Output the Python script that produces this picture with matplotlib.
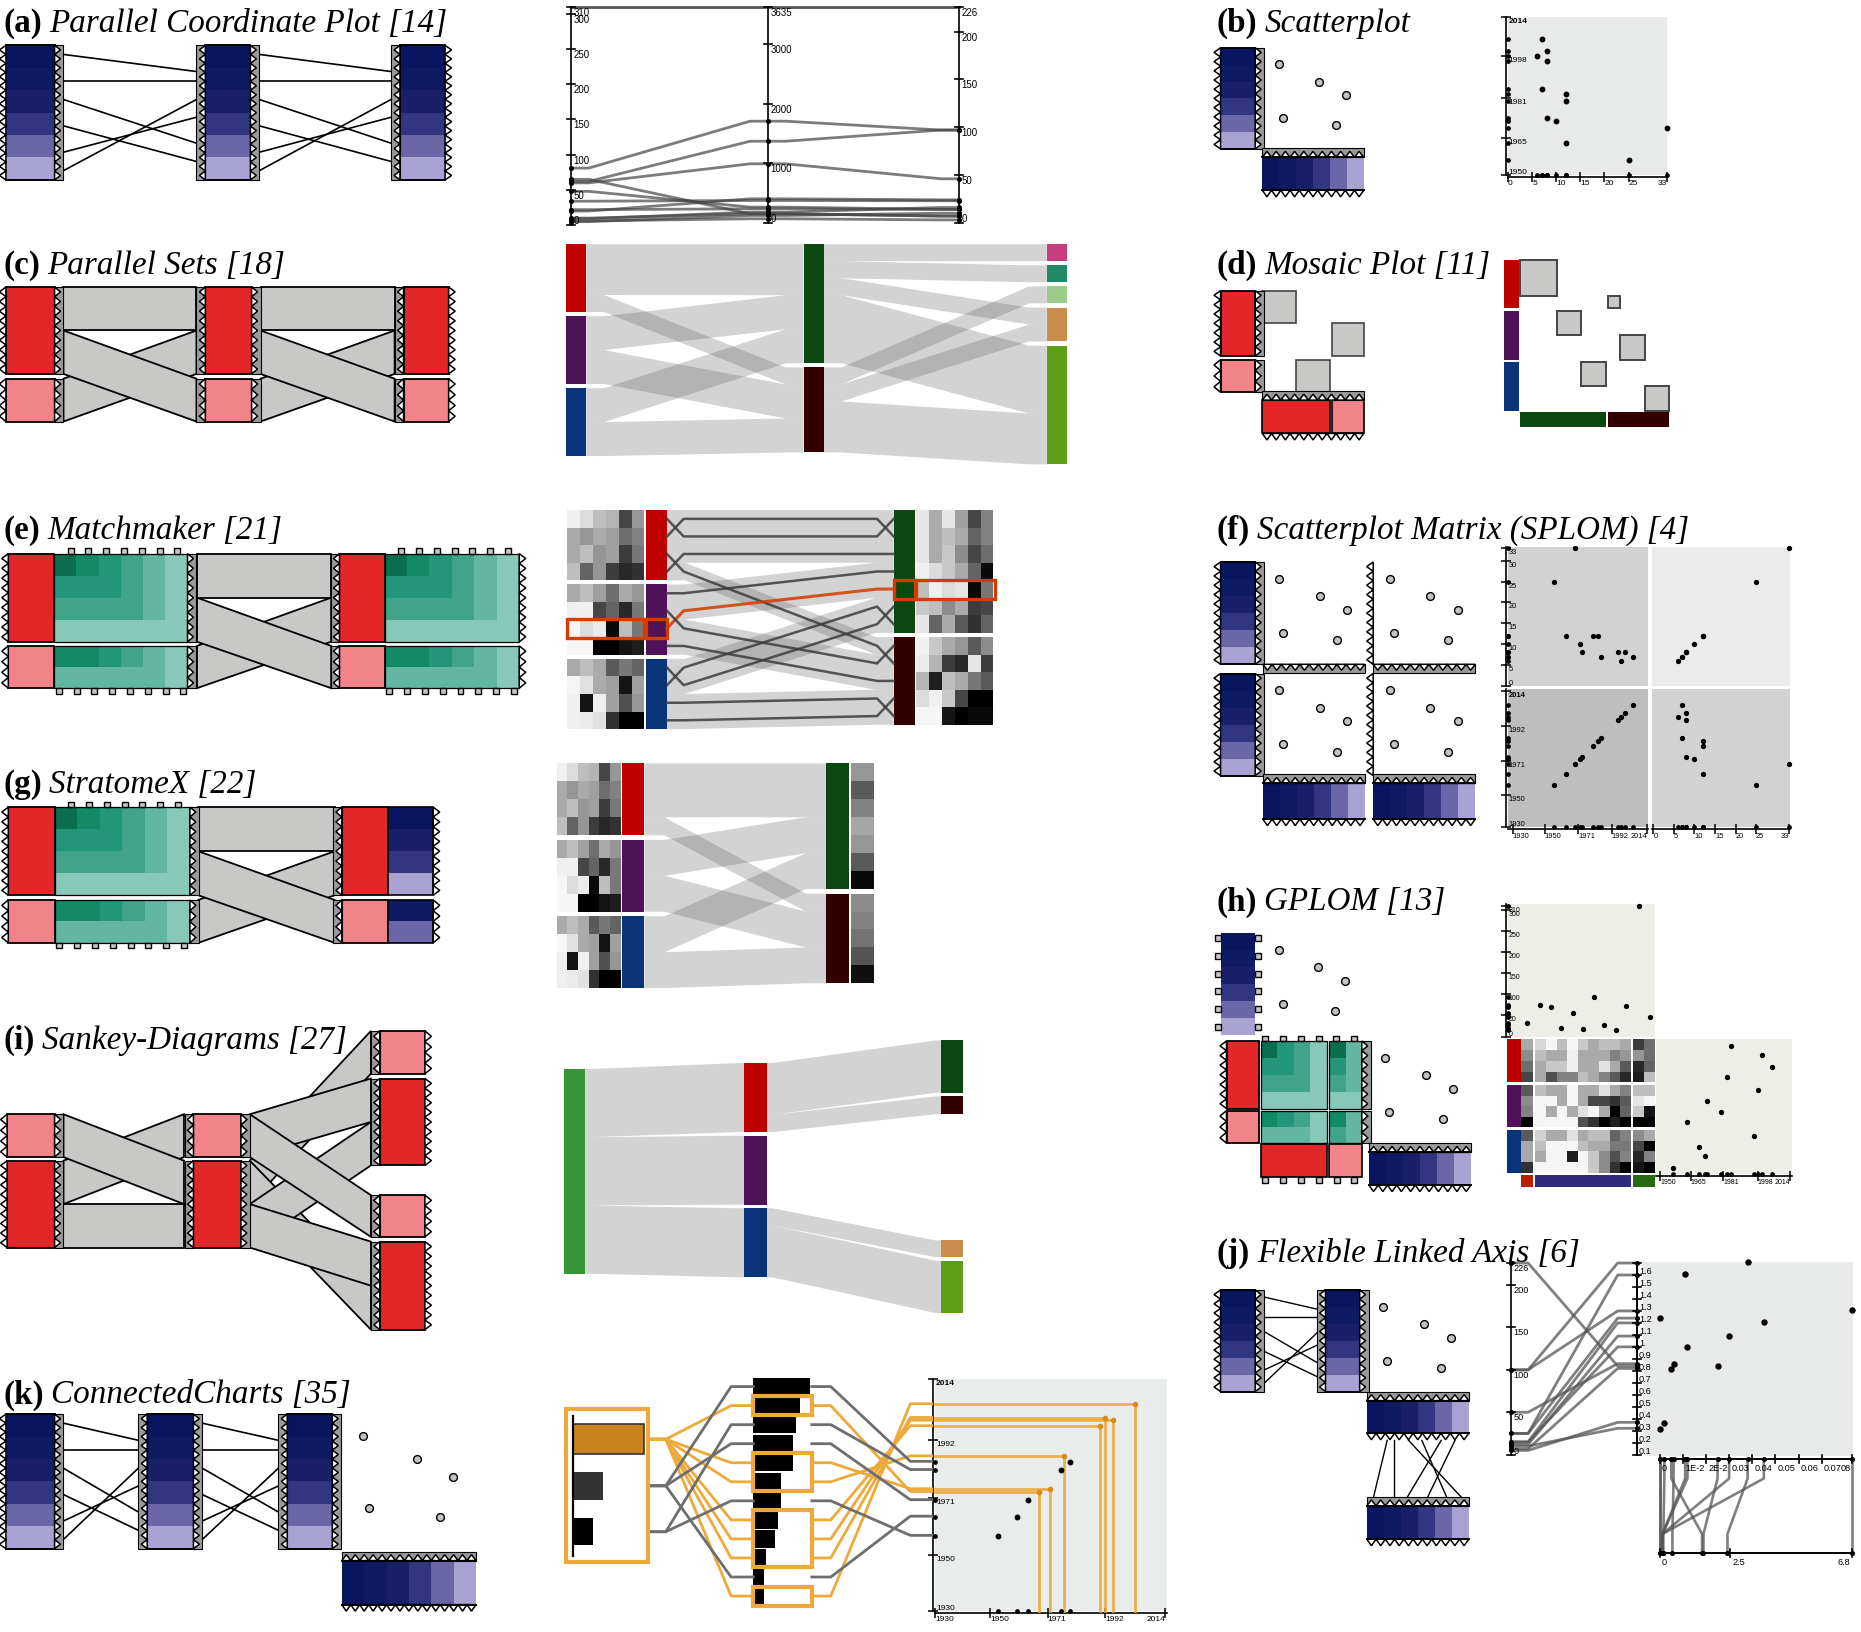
import matplotlib
matplotlib.use("Agg")
import matplotlib.pyplot as plt
import numpy as np
from matplotlib.colors import ListedColormap
from matplotlib.patches import Polygon, Rectangle

W, H = 1568.0, 1372.0

TITLES_LEFT = [("(a)", "Parallel Coordinate Plot [14]", 20), ("(c)", "Parallel Sets [18]", 223),
               ("(e)", "Matchmaker [21]", 446), ("(g)", "StratomeX [22]", 659),
               ("(i)", "Sankey-Diagrams [27]", 874), ("(k)", "ConnectedCharts [35]", 1172)]
TITLES_RIGHT = [("(b)", "Scatterplot", 20), ("(d)", "Mosaic Plot [11]", 223),
                ("(f)", "Scatterplot Matrix (SPLOM) [4]", 446), ("(h)", "GPLOM [13]", 758),
                ("(j)", "Flexible Linked Axis [6]", 1053)]

BLUES = ["#0a1562", "#0e1a64", "#192069", "#323582", "#6a66a8", "#a9a3d4"]
GREENS = ["#0a6e4e", "#128a66", "#239579", "#41a38a", "#62b6a2", "#88c8b8"]
SCHEM_RED, SCHEM_PINK, SCHEM_GRAY = "#e32728", "#f28388", "#c8c8c6"
SET_A = ["#c00000", "#4f1258", "#0a347a"]
SET_B = ["#0b4710", "#330000"]
SET_C = ["#c73e7f", "#1f8a65", "#9ccc8c", "#c88c4c", "#5f9f16"]
ORANGE, HILITE = "#eda93a", "#d23c00"

# links of the schematic parallel coordinates, as fraction of the column height
LINK_LEFT = [0.067, 0.263, 0.402, 0.598, 0.794, 0.931]
LINK_RIGHT = [0.194, 0.263, 0.727, 0.863, 0.534, 0.402]
ROW_LINK_TOP = [0.20, 0.265, 0.41, 0.54, 0.73, 0.865]
ROW_LINK_BOTTOM = [0.065, 0.265, 0.93, 0.785, 0.395, 0.595]
SCAT_X = [0.161, 0.560, 0.826, 0.199, 0.730]
SCAT_Y = [0.164, 0.334, 0.469, 0.695, 0.764]

SCHEM_FLOWS = [[1, 1], [1, 0]]
SANKEY_FLOWS = [[0, 1], [1, 1]]
FLOW_AB = [[3, 1], [2, 2], [2, 2]]
FLOW_BC = [[1, 1, 0, 1, 4], [0, 0, 1, 1, 3]]
SIZES_C = [1, 1, 1, 2, 7]
FLOW_ROOT = [[4, 4, 4]]
FLOW_SANKEY_TOP = [[3, 1]]
FLOW_SANKEY_BOT = [[1, 3]]
SANKEY_SLOTS = [(1, 0), (1, 5), (2, 2), (2, 4), (0, 1), (0, 3)]

MATRIX_TOP = [[0, 1, 2, 3, 4, 5], [2, 2, 2, 3, 4, 5], [3, 3, 3, 3, 4, 5], [5, 5, 5, 5, 5, 5]]
MATRIX_BOT = [[1, 1, 2, 3, 4, 5], [4, 4, 4, 4, 4, 5]]
GPLOM_TL = [[0, 2, 3, 5], [2, 2, 3, 5], [3, 3, 3, 5], [5, 5, 5, 5]]
GPLOM_BL = [[1, 2, 3, 5], [4, 4, 4, 5]]
GPLOM_TR = [[0, 4], [2, 4], [3, 4], [5, 5]]
GPLOM_BR = [[1, 4], [3, 4]]

# parallel coordinates (a)
PCP_A = [81, 62, 60, 65, 48, 34, 20, 22, 9, 5, 6, 10]
PCP_B = [1709, 1372, 992, 151, 263, 375, 403, 235, 179, 123, 67, 151]
PCP_C = [97, 97, 46, 7, 14, 23, 24, 14, 16, 10, 3, 7]

YEAR = [2005, 1998, 2000, 1996, 1985, 1983, 1980, 1973, 1972, 1969, 1963, 1956]
VALUE = [7, 6, 8, 8, 7, 12, 12, 8, 10, 33, 12, 25]

HEAT_A = [[240, 220, 190, 180, 70, 150], [170, 150, 170, 160, 110, 130],
          [170, 190, 150, 160, 60, 120], [190, 100, 150, 60, 40, 50],
          [170, 190, 160, 110, 170, 150], [240, 240, 70, 100, 40, 120],
          [245, 220, 235, 10, 190, 120], [245, 245, 0, 0, 20, 30],
          [170, 190, 170, 90, 120, 100], [245, 225, 170, 160, 20, 160],
          [240, 20, 240, 160, 80, 150], [240, 235, 225, 50, 0, 0]]
HEAT_B = [[230, 170, 230, 160, 70, 130], [230, 170, 190, 170, 100, 130],
          [230, 170, 200, 140, 70, 110], [240, 220, 200, 170, 100, 10],
          [190, 240, 220, 230, 10, 120], [200, 190, 140, 170, 60, 70],
          [230, 100, 170, 90, 50, 100], [240, 200, 170, 150, 90, 140],
          [235, 180, 60, 40, 230, 60], [180, 30, 190, 170, 120, 90],
          [220, 240, 200, 70, 0, 0], [245, 245, 20, 0, 10, 10]]
ROW_ORDER = [0, 1, 2, 7, 3, 4, 8, 9, 5, 6, 10, 11]
ENTRY_LEFT = [1, 0, 3, 2, 4, 6, 5, 7, 9, 8, 10, 11]
ENTRY_RIGHT = [1, 0, 2, 3, 4, 6, 5, 8, 7, 9, 11, 10]
HILITE_SLOT = 5
AVG_GRAY = [150, 90, 130, 165, 150, 90, 10, 140, 130, 115, 85, 15]

GPLOM_FIRST = [170, 140, 110, 70, 90, 140, 130, 0, 90, 170, 170, 50]
GPLOM_MID = [[215, 245, 190, 245, 200, 170, 190, 190, 170], [190, 170, 170, 240, 170, 170, 170, 130, 150],
             [170, 200, 200, 240, 170, 170, 225, 170, 90], [170, 80, 130, 130, 190, 170, 130, 90, 40],
             [190, 170, 170, 245, 170, 170, 225, 170, 130], [245, 245, 170, 245, 170, 70, 70, 50, 90],
             [245, 170, 245, 170, 225, 245, 170, 0, 100], [245, 245, 245, 245, 80, 50, 0, 30, 0],
             [210, 170, 170, 225, 170, 190, 190, 100, 130], [190, 245, 245, 245, 190, 170, 170, 120, 120],
             [170, 245, 245, 30, 245, 200, 140, 80, 130], [245, 245, 245, 245, 245, 200, 140, 50, 0]]
GPLOM_LAST = [[60, 110], [150, 110], [40, 100], [30, 190], [190, 190], [230, 245],
              [200, 20], [0, 0], [140, 170], [70, 0], [40, 130], [20, 0]]
GPLOM_X = [13, 22, 29, 36, 44, 51, 58, 65, 73, 80, 89, 96]
GPLOM_A = [32, 75, 69, 20, 57, 19, 93, 28, 16, 73, 310, 46]
GPLOM_YEAR = [1985, 2000, 2005, 1983, 1998, 1973, 1980, 1963, 1996, 1969, 1972, 1956]
GPLOM_Y = [95, 88, 79, 72, 62, 54, 46, 38, 28, 20, 13, 4]

J_A = [10, 5, 7, 50, 25, 25, 15, 226, 12, 100, 15, 100]
J_X = [0, 0.002, 0.005, 0.006, 0, 0.011, 0.012, 0.025, 0.03, 0.038, 0.045, 0.083]
J_Y = [0.32, 0.37, 0.82, 0.86, 1.24, 1.6, 1.0, 0.84, 1.09, 1.7, 1.2, 1.3]
J_Z = [0, 0.13, 1.5, 0.45, 0, 0.1, 0.1, 1.55, 0.1, 2.4, 0.1, 6.8]

K_BARS = [74, 61, 56, 52, 52, 36, 36, 32, 28, 16, 14, 14]
K_NODE = [60, 25, 17]
K_ORANGE_BARS = [1, 4, 5, 7, 8, 9, 11]
K_ORANGE_YEAR_Y = [1973, 1974, 1986, 1997, 1999, 2000, 2005]
K_ORANGE_YEAR_X = [1968, 1972, 1977, 1990, 1995, 1992, 2003]
K_GRAY_BARS = [0, 2, 3, 6, 10]
K_GRAY_SRC = [1, 2, 1, 2, 1]
K_GRAY_YEAR_Y = [1984, 1981, 1970, 1957, 1964]
K_GRAY_YEAR_X = [1979, 1976, 1964, 1953, 1960]
K_BOXES = [(1, 1), (4, 5), (7, 9), (11, 11)]

plt.rcParams["font.family"] = ["Liberation Sans", "DejaVu Sans"]
fig = plt.figure(figsize=(18.61, 16.33), dpi=100)


def make_canvas(shift, z):
    ax = fig.add_axes([0, 0, 1, 1], zorder=z)
    ax.set_xlim(-shift, W - shift)
    ax.set_ylim(H, 0)
    ax.axis("off")
    ax.patch.set_visible(False)
    ax.set_autoscale_on(False)
    return ax


canvas = make_canvas(0, 5)
chart_shift = 0


def title(x, y, bold, italic):
    renderer = fig.canvas.get_renderer()
    t = canvas.text(x, y, bold, family="Liberation Serif", fontweight="bold", fontsize=23.9, va="center")
    right = canvas.transData.inverted().transform(t.get_window_extent(renderer).corners()[-1])[0]
    canvas.text(right + 6, y, italic, family="Liberation Serif", style="italic", fontsize=23.9, va="center")


def box(x0, y0, x1, y1, fc, ec="none", lw=0.0, z=2):
    canvas.add_patch(Rectangle((x0, y0), x1 - x0, y1 - y0, fc=fc, ec=ec, lw=lw, zorder=z))


def side(orient, pos, c0, c1, kind, sign, step=7.5):
    """Edge decoration of a schematic column or row."""
    if kind is None:
        return
    xy = (lambda p, c: (p, c)) if orient == "v" else (lambda p, c: (c, p))
    if kind == "square":
        for c in np.arange(c0 + 4, c1, 15):
            a, b = xy(pos, c - 2.5), xy(pos + sign * 4.5, c + 2.5)
            box(a[0], a[1], b[0], b[1], "#c8c8c8", "black", 1.0, 3)
        return
    n = max(int((c1 - c0) / step), 2)
    cs = np.linspace(c0, c1, 2 * n + 1)
    tip = 5.5 if kind == "zig" else 5
    if kind == "strip":
        a, b = xy(pos, c0), xy(pos + sign * 7.5, c1)
        box(a[0], a[1], b[0], b[1], "#9a9a9a", "black", 0.8, 3)
    pts = [xy(pos + (sign * tip if i % 2 else 0), c) for i, c in enumerate(cs)]
    canvas.add_patch(Polygon(pts, closed=True, fc="white", ec="black", lw=1.1, zorder=3))


def column(x0, x1, segs, colors, left=None, right=None, outline=False):
    for (y0, y1), color in zip(segs, colors):
        box(x0, y0, x1, y1, color, "black" if outline else "none", 1.3 if outline else 0)
        if outline:
            side("v", x0, y0, y1, left, -1)
            side("v", x1, y0, y1, right, 1)
    if not outline:
        canvas.plot([x0, x1], [segs[0][0]] * 2, color="black", lw=1.4, zorder=3)
        canvas.plot([x0, x1], [segs[-1][1]] * 2, color="black", lw=1.4, zorder=3)


def blue_col(x0, x1, y0, y1, left, right):
    edges = np.linspace(y0, y1, 7)
    column(x0, x1, list(zip(edges[:-1], edges[1:])), BLUES)
    side("v", x0, y0, y1, left, -1)
    side("v", x1, y0, y1, right, 1)


def blue_row(x0, x1, y0, y1, top="strip", bottom="zig"):
    edges = np.linspace(x0, x1, 7)
    for a, b, color in zip(edges[:-1], edges[1:], BLUES):
        box(a, y0, b, y1, color)
    side("h", y0, x0, x1, top, -1)
    side("h", y1, x0, x1, bottom, 1)
    canvas.plot([x0, x1], [y0, y0], color="black", lw=1.4, zorder=3)
    canvas.plot([x0, x1], [y1, y1], color="black", lw=1.4, zorder=3)


def red_col(x0, x1, segs, left, right, colors=(SCHEM_RED, SCHEM_PINK)):
    column(x0, x1, segs, colors, left, right, outline=True)


def link_lines(x0, x1, y0, y1, left=LINK_LEFT, right=LINK_RIGHT, lw=1.2):
    for a, b in zip(left, right):
        canvas.plot([x0, x1], [y0 + a * (y1 - y0), y0 + b * (y1 - y0)], color="black", lw=lw, zorder=2)


def flow_bands(flows, left_segs, right_segs):
    flows = np.asarray(flows, dtype=float)
    bands = []
    lunit = [(b - a) / flows[i].sum() for i, (a, b) in enumerate(left_segs)]
    runit = [(b - a) / flows[:, j].sum() for j, (a, b) in enumerate(right_segs)]
    rpos = [s[0] for s in right_segs]
    for i, (ltop, _) in enumerate(left_segs):
        lpos = ltop
        for j in range(flows.shape[1]):
            if flows[i, j] > 0:
                lh, rh = flows[i, j] * lunit[i], flows[i, j] * runit[j]
                bands.append((lpos, lpos + lh, rpos[j], rpos[j] + rh))
                lpos += lh
                rpos[j] += rh
    return bands


def ribbons(bands, x0, x1, stub=15.0, schematic=False):
    for la, lb, ra, rb in bands:
        pts = [(x0, la), (x0 + stub, la), (x1 - stub, ra), (x1, ra),
               (x1, rb), (x1 - stub, rb), (x0 + stub, lb), (x0, lb)]
        if schematic:
            canvas.add_patch(Polygon(pts, closed=True, fc=SCHEM_GRAY, ec="black", lw=1.3, zorder=1.5))
        else:
            canvas.add_patch(Polygon(pts, closed=True, fc="#666666", alpha=0.288, ec="none", zorder=1.5))


def split(y0, y1, sizes, gap):
    unit = (y1 - y0 - gap * (len(sizes) - 1)) / sum(sizes)
    segs, pos = [], y0
    for size in sizes:
        segs.append((pos, pos + size * unit))
        pos += size * unit + gap
    return segs


def matrix(x0, x1, y0, y1, levels):
    levels = np.asarray(levels)
    rows, cols = levels.shape
    cmap = ListedColormap(GREENS)
    canvas.pcolormesh(np.linspace(x0, x1, cols + 1), np.linspace(y0, y1, rows + 1), levels,
                      cmap=cmap, vmin=-0.5, vmax=5.5, zorder=2)
    box(x0, y0, x1, y1, "none", "black", 0.9, 3)


def heat(x0, x1, y0, y1, rows):
    rows = np.asarray(rows)
    canvas.pcolormesh(np.linspace(x0, x1, rows.shape[1] + 1), np.linspace(y0, y1, rows.shape[0] + 1),
                      rows, cmap="gray", vmin=0, vmax=255, zorder=2)


def circles(x0, x1, y0, y1):
    canvas.plot(x0 + np.array(SCAT_X) * (x1 - x0), y0 + np.array(SCAT_Y) * (y1 - y0), "o", ms=5.6,
                mfc="#c4c4c4", mec="black", mew=1.0, zorder=3)


def lin(v, v0, v1, p0, p1):
    return p0 + (np.asarray(v, dtype=float) - v0) / (v1 - v0) * (p1 - p0)


def vaxis(x, v0, v1, p0, p1, ticks, labels, fs=6.2, va="top", rug=None):
    canvas.plot([x, x], [p0, p1], color="black", lw=1.2, zorder=4)
    for k, (v, label) in enumerate(zip(ticks, labels)):
        y = lin(v, v0, v1, p0, p1)
        canvas.plot([x - 3.5, x + 3.5], [y, y], color="black", lw=1.2, zorder=4)
        canvas.text(x + 2, y, label, fontsize=fs, va="bottom" if k == 0 else va, ha="left", zorder=6)
    if rug is not None:
        canvas.plot([x] * len(rug), lin(rug, v0, v1, p0, p1), "o", ms=2.6, color="black", zorder=4)


def haxis(y, v0, v1, p0, p1, ticks, labels, fs=6.2, rug=None):
    canvas.plot([p0, p1], [y, y], color="black", lw=1.4, zorder=4)
    for k, (v, label) in enumerate(zip(ticks, labels)):
        x = lin(v, v0, v1, p0, p1)
        last = k == len(ticks) - 1
        canvas.plot([x, x], [y - 3.5, y + 3.5], color="black", lw=1.2, zorder=4)
        canvas.text(x - 1 if last else x + 2, y + 3.5, label, fontsize=fs, va="top",
                    ha="right" if last else "left", zorder=6)
    if rug is not None:
        canvas.plot(lin(rug, v0, v1, p0, p1), [y] * len(rug), "o", ms=2.6, color="black", zorder=4)


def chart(rect, xlim, ylim, bg, xticks=None, xlabels=None, yticks=None, ylabels=None, fs=6.0):
    x0, y0, x1, y1 = rect
    x0, x1 = x0 + chart_shift, x1 + chart_shift
    ax = fig.add_axes([x0 / W, 1 - y1 / H, (x1 - x0) / W, (y1 - y0) / H], zorder=1)
    ax.set_xlim(*xlim)
    ax.set_ylim(*ylim)
    ax.set_facecolor(bg)
    for name in ("top", "right"):
        ax.spines[name].set_visible(False)
    for name in ("left", "bottom"):
        ax.spines[name].set_position(("outward", 1.5))
        ax.spines[name].set_linewidth(1.2)
        ax.spines[name].set_visible((name == "left" and yticks is not None)
                                    or (name == "bottom" and xticks is not None))
    ax.set_xticks(xticks if xticks is not None else [])
    ax.set_yticks(yticks if yticks is not None else [])
    if xticks is not None:
        ax.set_xticklabels(xlabels, fontsize=fs, ha="left")
        ax.get_xticklabels()[-1].set_ha("right")
    if yticks is not None:
        ax.set_yticklabels(ylabels, fontsize=fs, va="top", ha="left")
        ax.get_yticklabels()[0].set_va("bottom")
    ax.tick_params(axis="x", direction="inout", length=7, width=1.1, pad=-2)
    ax.tick_params(axis="y", direction="inout", length=7, width=1.1, pad=-5.5)
    return ax


def dots(ax, x, y, rug_x=False, rug_y=False, ms=3.2):
    ax.plot(x, y, "o", color="black", ms=ms, clip_on=False, zorder=4, ls="none")
    if rug_x:
        ax.plot(x, [ax.get_ylim()[0]] * len(x), "o", color="black", ms=2.4, clip_on=False, zorder=4, ls="none")
    if rug_y:
        ax.plot([ax.get_xlim()[0]] * len(y), y, "o", color="black", ms=2.4, clip_on=False, zorder=4, ls="none")


for bold, italic, y in TITLES_LEFT:
    title(3, y, bold, italic)
for bold, italic, y in TITLES_RIGHT:
    title(1025, y, bold, italic)

# --- (a) parallel coordinates
for x0, x1, left, right in [(5, 46, "zig", "strip"), (173, 211, "strip", "strip"), (337, 375, "strip", "zig")]:
    blue_col(x0, x1, 39, 152, left, right)
link_lines(53.5, 165.5, 39, 152)
link_lines(218.5, 329.5, 39, 152)

AX_A, AX_B, AX_C = 481, 647, 808
PCP_TOP, PCP_BOTTOM = 6.5, 190
vaxis(AX_A, 0, 310, PCP_BOTTOM, PCP_TOP, [0, 50, 100, 150, 200, 250, 300, 310],
      ["0", "50", "100", "150", "200", "250", "300", "310"], fs=7.0, rug=PCP_A)
vaxis(AX_B, 0, 3635, PCP_BOTTOM - 2, PCP_TOP, [0, 1000, 2000, 3000, 3635], ["0", "1000", "2000", "3000", "3635"],
      fs=7.0, rug=PCP_B)
vaxis(AX_C, 0, 226, PCP_BOTTOM - 2, PCP_TOP, [0, 50, 100, 150, 200, 226], ["0", "50", "100", "150", "200", "226"],
      fs=7.0, rug=PCP_C)
canvas.plot([AX_A, AX_C], [PCP_TOP, PCP_TOP], color="#555555", lw=2, zorder=3)
for a, b, c in zip(PCP_A, PCP_B, PCP_C):
    ya = lin(a, 0, 310, PCP_BOTTOM, PCP_TOP)
    yb = lin(b, 0, 3635, PCP_BOTTOM - 2, PCP_TOP)
    yc = lin(c, 0, 226, PCP_BOTTOM - 2, PCP_TOP)
    canvas.plot([AX_A, AX_A + 15, AX_B - 15, AX_B, AX_B + 15, AX_C - 15, AX_C], [ya, ya, yb, yb, yb, yc, yc],
                color="#444444", alpha=0.7, lw=2, zorder=3)

# --- (c) parallel sets
RP_C = [(242, 315), (319, 355)]
red_col(5, 46, RP_C, "zig", "strip")
red_col(173, 212, RP_C, "strip", "strip")
red_col(340, 378, RP_C, "strip", "zig")
ribbons(flow_bands(SCHEM_FLOWS, RP_C, RP_C)[::-1], 53.5, 165.5, 0, True)
ribbons(flow_bands(SCHEM_FLOWS, RP_C, RP_C)[::-1], 219.5, 332.5, 0, True)

A_C = split(206, 384, [4, 4, 4], 3.5)
B_C = split(206, 381, [7, 5], 3.5)
C_C = split(206, 391, SIZES_C, 3.5)
for segs, colors, x0, x1 in [(A_C, SET_A, 477, 494), (B_C, SET_B, 677, 694), (C_C, SET_C, 882, 899)]:
    for (y0, y1), color in zip(segs, colors):
        box(x0, y0, x1, y1, color)
ribbons(flow_bands(FLOW_AB, A_C, B_C), 494, 677)
ribbons(flow_bands(FLOW_BC, B_C, C_C), 694, 882)

# --- (e) matchmaker
RP_E = [(466, 540), (543.5, 579)]
RP_G = [(679, 753), (757, 793)]


def green_blocks(x0, x1, segs):
    matrix(x0, x1, segs[0][0], segs[0][1], MATRIX_TOP)
    matrix(x0, x1, segs[1][0], segs[1][1], MATRIX_BOT)
    side("h", segs[0][0], x0 + 10, x1 - 5, "square", -1)
    side("h", segs[1][1], x0, x1, "square", 1)


red_col(7, 45.5, RP_E, "zig", None)
green_blocks(45.5, 158, RP_E)
for seg in RP_E:
    side("v", 158, seg[0], seg[1], "strip", 1)
red_col(286, 324, RP_E, "strip", None)
green_blocks(324, 437.5, RP_E)
for seg in RP_E:
    side("v", 437.5, seg[0], seg[1], "zig", 1)
ribbons(flow_bands(SCHEM_FLOWS, RP_E, RP_E)[::-1], 166, 279, 0, True)

A_E = split(429.4, 613.4, [4, 4, 4], 3.5)
B_E = split(429.4, 609.8, [7, 5], 3.5)
for (y0, y1), color in zip(A_E, SET_A):
    box(544, y0, 562, y1, color)
for (y0, y1), color in zip(B_E, SET_B):
    box(753, y0, 771, y1, color)
heat_rows = np.array(HEAT_A)
for k, (y0, y1) in enumerate(A_E):
    heat(478, 543, y0, y1, heat_rows[4 * k:4 * k + 4])
heat_rows_b = np.array(HEAT_B)
heat(772, 837, B_E[0][0], B_E[0][1], heat_rows_b[:7])
heat(772, 837, B_E[1][0], B_E[1][1], heat_rows_b[7:])
ribbons(flow_bands(FLOW_AB, A_E, B_E), 562, 753)
left_rows = np.concatenate([s[0] + (np.arange(4) + 0.5) * (s[1] - s[0]) / 4 for s in A_E])
right_rows = np.concatenate([B_E[0][0] + (np.arange(7) + 0.5) * (B_E[0][1] - B_E[0][0]) / 7,
                             B_E[1][0] + (np.arange(5) + 0.5) * (B_E[1][1] - B_E[1][0]) / 5])
for s, t in enumerate(ROW_ORDER):
    color, lw = (HILITE, 2.2) if s == HILITE_SLOT else ("#3c3c3c", 1.8)
    canvas.plot([562, 576, 739, 753],
                [left_rows[ENTRY_LEFT[s]], left_rows[s], right_rows[t], right_rows[ENTRY_RIGHT[t]]],
                color=color, lw=lw, alpha=0.85, zorder=3)
hl = left_rows[ENTRY_LEFT[HILITE_SLOT]]
hr = right_rows[ENTRY_RIGHT[ROW_ORDER[HILITE_SLOT]]]
for x0, x1, yc in [(478, 543, hl), (544, 562, hl), (753, 771, hr), (772, 838, hr)]:
    box(x0, yc - 8, x1, yc + 8, "none", HILITE, 2.4, 4)

# --- (g) stratomex
red_col(7, 46, RP_G, "zig", None)
green_blocks(46, 160, RP_G)
for seg in RP_G:
    side("v", 160, seg[0], seg[1], "strip", 1)
red_col(288, 327, RP_G, "strip", None)
edges_g = np.linspace(RP_G[0][0], RP_G[0][1], 5)
for a, b, color in zip(edges_g[:-1], edges_g[1:], [BLUES[0], BLUES[2], BLUES[3], BLUES[5]]):
    box(327, a, 365, b, color)
mid_g = sum(RP_G[1]) / 2
box(327, RP_G[1][0], 365, mid_g, BLUES[1])
box(327, mid_g, 365, RP_G[1][1], BLUES[4])
for seg in RP_G:
    box(327, seg[0], 365, seg[1], "none", "black", 1.2, 3)
    side("v", 365, seg[0], seg[1], "zig", 1)
ribbons(flow_bands(SCHEM_FLOWS, RP_G, RP_G)[::-1], 167, 282, 0, True)

A_G = split(642.3, 831, [4, 4, 4], 3.8)
B_G = split(642.3, 827, [7, 5], 3.8)
for k, ((y0, y1), color) in enumerate(zip(A_G, SET_A)):
    box(524, y0, 543, y1, color)
    heat(469, 523, y0, y1, heat_rows[4 * k:4 * k + 4])
for (y0, y1), color in zip(B_G, SET_B):
    box(696, y0, 715, y1, color)
heat(717, 736, B_G[0][0], B_G[0][1], np.array(AVG_GRAY[:7]).reshape(-1, 1))
heat(717, 736, B_G[1][0], B_G[1][1], np.array(AVG_GRAY[7:]).reshape(-1, 1))
ribbons(flow_bands(FLOW_AB, A_G, B_G), 543, 696, 17)

# --- (i) sankey
I_1 = [(937, 973), (976, 1049)]
I_T = [(867, 903), (907, 980)]
I_B = [(1005, 1040), (1044, 1118)]
PINK_FIRST = (SCHEM_PINK, SCHEM_RED)
red_col(6, 46, I_1, "zig", "strip", PINK_FIRST)
red_col(163, 203, I_1, "strip", "strip", PINK_FIRST)
red_col(320, 358, I_T, "strip", "zig", PINK_FIRST)
red_col(320, 358, I_B, "strip", "zig", PINK_FIRST)
ribbons(flow_bands(SANKEY_FLOWS, I_1, I_1)[::-1], 53.5, 155, 0, True)
src_slots = [I_1[0], (I_1[1][0], sum(I_1[1]) / 2), (sum(I_1[1]) / 2, I_1[1][1])]
dst_slots = [I_T[0], (I_T[1][0], sum(I_T[1]) / 2), (sum(I_T[1]) / 2, I_T[1][1]),
             I_B[0], (I_B[1][0], sum(I_B[1]) / 2), (sum(I_B[1]) / 2, I_B[1][1])]
ribbons([(src_slots[a][0], src_slots[a][1], dst_slots[b][0], dst_slots[b][1]) for a, b in SANKEY_SLOTS],
        210.5, 312.5, 0, True)

ROOT = [(899, 1071)]
MID_I = [(894, 952), (955, 1013), (1016, 1074)]
TOP_I = [(875, 919), (922, 937)]
BOT_I = [(1043, 1057), (1060, 1104)]
box(475, 899, 493, 1071, "#37953a")
for (y0, y1), color in zip(MID_I, SET_A):
    box(627, y0, 646, y1, color)
for (y0, y1), color in zip(TOP_I, SET_B):
    box(793, y0, 811, y1, color)
for (y0, y1), color in zip(BOT_I, SET_C[3:]):
    box(793, y0, 811, y1, color)
ribbons(flow_bands(FLOW_ROOT, ROOT, MID_I), 493, 627, 5)
ribbons(flow_bands(FLOW_SANKEY_TOP, [MID_I[0]], TOP_I), 646, 793, 5)
ribbons(flow_bands(FLOW_SANKEY_BOT, [MID_I[2]], BOT_I), 646, 793, 5)

# --- (k) connected charts
for x0, x1, left, right in [(5, 46, "zig", "strip"), (124, 163, "strip", "strip"), (242, 280, "strip", "strip")]:
    blue_col(x0, x1, 1189, 1302, left, right)
link_lines(53.5, 116.5, 1189, 1302)
link_lines(170.5, 234.5, 1189, 1302)
circles(288, 401, 1189, 1302)
blue_row(288, 401, 1312, 1349)

box(477, 1184.5, 546, 1313.5, "none", ORANGE, 3, 3)
canvas.plot([482.5, 482.5], [1190.5, 1307.8], color="black", lw=1.6, zorder=3)
NODE_Y = [(1197.3, 1222.8), (1237.4, 1260.9), (1276.2, 1299.3)]
for width, (y0, y1), color in zip(K_NODE, NODE_Y, ["#c8821f", "#333333", "black"]):
    box(483, y0, 483 + width, y1, color, "#333333" if color == "#c8821f" else "none", 1.2)
BAR_TOP, BAR_STEP, BAR_H = 1158.5, 16.0, 14.6
bar_y = [BAR_TOP + BAR_STEP * i for i in range(len(K_BARS))]
for y, width in zip(bar_y, K_BARS):
    box(634.7, y, 634.7 + width * 0.645, y + BAR_H, "black")
for first, last in K_BOXES:
    box(634.5, bar_y[first] - 0.7, 684, bar_y[last] + BAR_H + 0.7, "none", ORANGE, 3, 4)
year_pos = lambda yr: lin(yr, 1930, 2014, 1353, 1159.5)
node_mid = [sum(n) / 2 for n in NODE_Y]
for bar, yr, color, src in [(b, y, ORANGE, 0) for b, y in zip(K_ORANGE_BARS, K_ORANGE_YEAR_Y)] + \
        [(b, y, "#6e6e6e", s) for b, y, s in zip(K_GRAY_BARS, K_GRAY_YEAR_Y, K_GRAY_SRC)]:
    y_bar = bar_y[bar] + BAR_H / 2
    canvas.plot([546, 561, 616, 634.7], [node_mid[src], node_mid[src], y_bar, y_bar], color=color, lw=2, zorder=2.5)
    canvas.plot([684, 700, 767, 785], [y_bar, y_bar, year_pos(yr), year_pos(yr)], color=color, lw=2, zorder=2.5)

ax_k = chart((788, 1159.5, 983.6, 1354), (1930, 2014.7), (1930, 2014), "#e8ecea",
             [1930, 1950, 1971, 1992, 2014], ["1930", "1950", "1971", "1992", "2014"],
             [1930, 1950, 1971, 1992, 2014], ["1930", "1950", "1971", "1992", "2014"])
ax_k.get_yticklabels()[-1].set_fontweight("bold")
for xv, yv in zip(K_ORANGE_YEAR_X, K_ORANGE_YEAR_Y):
    ax_k.plot([1930, xv, xv], [yv, yv, 1930], color=ORANGE, lw=2, alpha=0.9, zorder=3, clip_on=False)
    ax_k.plot([xv], [yv], "o", color="#d98a18", ms=3, zorder=4)
dots(ax_k, K_GRAY_YEAR_X, K_GRAY_YEAR_Y, True, True)

# the right column sits a little further right, titles stay where they are
chart_shift = 3
canvas = make_canvas(chart_shift, 6)

# --- (b) scatterplot
blue_col(1025.4, 1054.6, 41, 126, "zig", "strip")
circles(1060.6, 1146, 41, 126)
blue_row(1060.6, 1146, 133, 160.7)
ax_b = chart((1267.6, 15, 1401.7, 148), (0, 33), (1950, 2014), "#e8eaea",
             [0, 5, 10, 15, 20, 25, 33], ["0", "5", "10", "15", "20", "25", "33"],
             [1950, 1965, 1981, 1998, 2014], ["1950", "1965", "1981", "1998", "2014"])
ax_b.get_yticklabels()[-1].set_fontweight("bold")
dots(ax_b, VALUE, YEAR, True, True)

# --- (d) mosaic
RP_D = [(245, 300), (303, 330.4)]
red_col(1025.4, 1054.6, RP_D, "zig", "strip")
CP_D = [(1060.6, 1117.4), (1119, 1146)]
for (a, b), color in zip(CP_D, [SCHEM_RED, SCHEM_PINK]):
    box(a, 337, b, 365, color, "black", 1.2)
side("h", 337, 1060.6, 1146, "strip", -1)
side("h", 365, 1060.6, 1146, "zig", 1)
for la, lb, ra, rb in flow_bands(SCHEM_FLOWS, RP_D, CP_D):
    box(ra, la, rb, lb, SCHEM_GRAY, "#444444", 1.2)

A_D = [(219, 260), (262, 303), (305, 346)]
B_D = [(1278, 1350), (1352, 1403)]
for (y0, y1), color in zip(A_D, SET_A):
    box(1264, y0, 1277, y1, color)
for (x0, x1), color in zip(B_D, SET_B):
    box(x0, 347, x1, 360, color)
for la, lb, ra, rb in flow_bands(FLOW_AB, A_D, B_D):
    box(ra, la, rb, lb, SCHEM_GRAY, "#444444", 1.4)

# --- (f) splom
for y0, y1 in [(473, 559), (566.7, 652.5)]:
    blue_col(1025.4, 1054.6, y0, y1, "zig", "strip")
    circles(1061, 1146.8, y0, y1)
    circles(1154, 1240, y0, y1)
    side("v", 1154, y0, y1, "zig", -1)
for x0, x1 in [(1061, 1146.8), (1154, 1240)]:
    side("h", 559, x0, x1, "strip", 1)
    blue_row(x0, x1, 659, 689)

YEAR_TICKS, YEAR_LABELS = [1930, 1950, 1971, 1992, 2014], ["1930", "1950", "1971", "1992", "2014"]
VAL_TICKS, VAL_LABELS = [0, 5, 10, 15, 20, 25, 33], ["0", "5", "10", "15", "20", "25", "33"]
VAL_Y_TICKS, VAL_Y_LABELS = [0, 5, 10, 15, 20, 25, 30, 33], ["0", "5", "10", "15", "20", "25", "30", "33"]
ax_tl = chart((1267.6, 460.8, 1385.4, 576.9), (1927, 2014.5), (0, 33.2), "#d2d2d2",
              yticks=VAL_Y_TICKS, ylabels=VAL_Y_LABELS, fs=5.4)
ax_tr = chart((1389, 460.8, 1505.4, 576.9), (-0.3, 33.3), (0, 33.2), "#ebebeb")
ax_bl = chart((1267.6, 579.9, 1385.4, 696), (1927, 2014.5), (1930, 2014.8), "#bebebe",
              YEAR_TICKS, YEAR_LABELS, YEAR_TICKS, YEAR_LABELS, fs=5.4)
ax_bl.get_yticklabels()[-1].set_fontweight("bold")
ax_br = chart((1389, 579.9, 1505.4, 696), (-0.3, 33.3), (1930, 2014.8), "#d2d2d2",
              VAL_TICKS, VAL_LABELS, fs=5.4)
dots(ax_tl, YEAR, VALUE, False, True, ms=2.8)
dots(ax_tr, VALUE, VALUE, ms=2.8)
dots(ax_bl, YEAR, YEAR, True, True, ms=2.8)
dots(ax_br, VALUE, YEAR, True, False, ms=2.8)

# --- (h) gplom
edges_h = np.linspace(784.8, 870.6, 7)
for a, b, color in zip(edges_h[:-1], edges_h[1:], BLUES):
    box(1025.4, a, 1054.6, b, color)
side("v", 1025.4, 784.8, 870.6, "square", -1)
side("v", 1054.6, 784.8, 870.6, "square", 1)
circles(1061, 1144.7, 784.8, 870.6)
side("h", 875.5, 1059, 1144.4, "square", -1)
RP_H = [(875.5, 932.2), (934, 961.3)]
red_col(1030.4, 1058, RP_H, "zig", None)
matrix(1059.2, 1114.9, RP_H[0][0], RP_H[0][1], GPLOM_TL)
matrix(1059.2, 1114.9, RP_H[1][0], RP_H[1][1], GPLOM_BL)
matrix(1117, 1144.4, RP_H[0][0], RP_H[0][1], GPLOM_TR)
matrix(1117, 1144.4, RP_H[1][0], RP_H[1][1], GPLOM_BR)
for seg in RP_H:
    side("v", 1144.4, seg[0], seg[1], "strip", 1)
circles(1150.4, 1236.3, 875.5, 961.3)
box(1059.2, 962.4, 1114.9, 990, SCHEM_RED, "black", 1.2)
box(1117, 962.4, 1144.4, 990, SCHEM_PINK, "black", 1.2)
side("h", 990, 1059.2, 1144.4, "square", 1)
blue_row(1150.4, 1236.3, 969, 996.5)

ax_h1 = chart((1267.6, 760, 1391.8, 871.7), (0, 100), (0, 316), "#eeeee8",
              yticks=[0, 50, 100, 150, 200, 250, 300, 310], ylabels=["0", "50", "100", "150", "200", "250", "300", "310"],
              fs=5.0)
dots(ax_h1, GPLOM_X, GPLOM_A, False, True, ms=2.8)
GPLOM_ROWS = [(873.6, 910.3), (912.5, 948), (950.3, 986.2)]
for block, ((y0, y1), color) in enumerate(zip(GPLOM_ROWS, SET_A)):
    box(1266.8, y0, 1278.2, y1, color)
    heat(1278.9, 1288.9, y0, y1, np.array(GPLOM_FIRST[4 * block:4 * block + 4]).reshape(-1, 1))
    heat(1290.6, 1371.2, y0, y1, np.array(GPLOM_MID[4 * block:4 * block + 4]))
    heat(1373.3, 1391.1, y0, y1, np.array(GPLOM_LAST[4 * block:4 * block + 4]))
for (x0, x1), color in zip([(1278.9, 1288.9), (1290.6, 1371.2), (1373.3, 1391.1)], ["#b82000", "#2f2a7f", "#266b12"]):
    box(x0, 987.8, x1, 998.4, color)
ax_h2 = chart((1392.5, 873.6, 1506.5, 987), (1948, 2014.6), (0, 100), "#eeeee8",
              [1950, 1965, 1981, 1998, 2014], ["1950", "1965", "1981", "1998", "2014"], fs=5.0)
dots(ax_h2, GPLOM_YEAR, GPLOM_Y, True, False, ms=2.8)

# --- (j) flexible linked axis
blue_col(1025.4, 1054.6, 1084.6, 1170, "zig", "strip")
blue_col(1113.8, 1142.6, 1084.6, 1170, "strip", "strip")
link_lines(1061, 1108.5, 1084.6, 1170, lw=1.0)
circles(1148.6, 1234.5, 1084.6, 1170)
blue_row(1148.6, 1234.5, 1177.6, 1205)
blue_row(1148.6, 1234.5, 1266, 1294)
for a, b in zip(ROW_LINK_TOP, ROW_LINK_BOTTOM):
    canvas.plot([1148.6 + a * 85.9, 1148.6 + b * 85.9], [1211, 1259], color="black", lw=1.0, zorder=2)

AX_J1, AX_J2 = 1270, 1376
J_TOP, J_BOT = 1062, 1223
vaxis(AX_J1, 0, 226, J_BOT, J_TOP, [0, 50, 100, 150, 200, 226], ["0", "50", "100", "150", "200", "226"], fs=6.6, rug=[5, 7, 10, 12, 15, 25, 50, 100, 226])
vaxis(AX_J2, 0.1, 1.7, J_BOT, J_TOP, np.arange(1, 17) / 10,
      ["0.1", "0.2", "0.3", "0.4", "0.5", "0.6", "0.7", "0.8", "0.9", "1", "1.1", "1.2", "1.3", "1.4", "1.5", "1.6"],
      fs=6.6, va="bottom", rug=J_Y)
vaxis(AX_J2, 0.1, 1.7, J_BOT, J_TOP, [1.7], [""])
for a, y in zip(J_A, J_Y):
    ya, yb = lin(a, 0, 226, J_BOT, J_TOP), lin(y, 0.1, 1.7, J_BOT, J_TOP)
    canvas.plot([AX_J1, AX_J1 + 14.5, AX_J2 - 16, AX_J2], [ya, ya, yb, yb], color="#555555", alpha=0.75, lw=2, zorder=3)

XJ0, XJ1 = 1395.4, 1557.2
ax_j = chart((1381, 1061, 1558, 1224), (lin(1381, XJ0, XJ1, 0, 0.083), lin(1558, XJ0, XJ1, 0, 0.083)), (0.1, 1.7), "#e8eaea")
dots(ax_j, J_X, J_Y, ms=3.6)
haxis(1226.6, 0, 0.083, XJ0, XJ1, [0, 0.01, 0.02, 0.03, 0.04, 0.05, 0.06, 0.07, 0.083],
      ["0", "1E-2", "2E-2", "0.03", "0.04", "0.05", "0.06", "0.07", "08"], fs=6.6, rug=J_X)
haxis(1305.6, 0, 6.8, XJ0, XJ1, [0, 2.5, 6.8], ["0", "2.5", "6.8"], fs=6.6, rug=J_Z)
for xv, zv in zip(J_X, J_Z):
    xa = lin(xv, 0, 0.083, XJ0, XJ1)
    xb = lin(zv, 0, 6.8, XJ0, XJ1)
    canvas.plot([xa, xa, xb, xb], [1226.6, 1243, 1289.6, 1305.6], color="#555555", alpha=0.75, lw=1.9, zorder=3)

fig.savefig("out.png", dpi=100)
